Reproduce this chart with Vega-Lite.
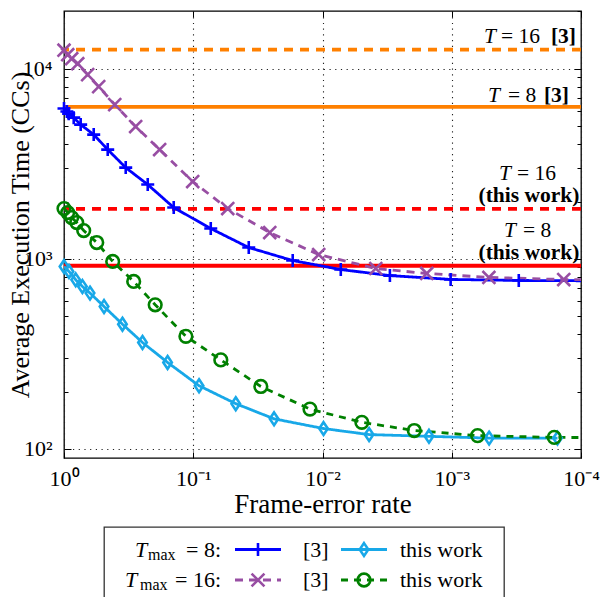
{
  "$schema": "https://vega.github.io/schema/vega-lite/v6.json",
  "padding": {"left": 6, "top": 9, "right": 0, "bottom": 0},
  "spacing": 8,
  "datasets": {
    "curves": [
      {"s": "T8 [3]", "fer": 1.0, "t": 6170},
      {"s": "T8 [3]", "fer": 0.95, "t": 5950},
      {"s": "T8 [3]", "fer": 0.92, "t": 5800},
      {"s": "T8 [3]", "fer": 0.841, "t": 5525},
      {"s": "T8 [3]", "fer": 0.743, "t": 5078},
      {"s": "T8 [3]", "fer": 0.589, "t": 4500},
      {"s": "T8 [3]", "fer": 0.459, "t": 3753},
      {"s": "T8 [3]", "fer": 0.333, "t": 3017},
      {"s": "T8 [3]", "fer": 0.225, "t": 2457},
      {"s": "T8 [3]", "fer": 0.1416, "t": 1860},
      {"s": "T8 [3]", "fer": 0.0732, "t": 1442},
      {"s": "T8 [3]", "fer": 0.0372, "t": 1146},
      {"s": "T8 [3]", "fer": 0.017, "t": 979},
      {"s": "T8 [3]", "fer": 0.00722, "t": 878},
      {"s": "T8 [3]", "fer": 0.00301, "t": 816},
      {"s": "T8 [3]", "fer": 0.00102, "t": 779},
      {"s": "T8 [3]", "fer": 0.000303, "t": 769},
      {"s": "T8 [3]", "fer": 0.00005, "t": 765, "ext": true},
      {"s": "T16 [3]", "fer": 1.0, "t": 12500},
      {"s": "T16 [3]", "fer": 0.936, "t": 11844},
      {"s": "T16 [3]", "fer": 0.872, "t": 11285},
      {"s": "T16 [3]", "fer": 0.783, "t": 10624},
      {"s": "T16 [3]", "fer": 0.656, "t": 9300},
      {"s": "T16 [3]", "fer": 0.539, "t": 8044},
      {"s": "T16 [3]", "fer": 0.405, "t": 6470},
      {"s": "T16 [3]", "fer": 0.279, "t": 4957},
      {"s": "T16 [3]", "fer": 0.182, "t": 3752},
      {"s": "T16 [3]", "fer": 0.101, "t": 2548},
      {"s": "T16 [3]", "fer": 0.0541, "t": 1838},
      {"s": "T16 [3]", "fer": 0.0256, "t": 1374},
      {"s": "T16 [3]", "fer": 0.0107, "t": 1053},
      {"s": "T16 [3]", "fer": 0.00387, "t": 889},
      {"s": "T16 [3]", "fer": 0.00156, "t": 837},
      {"s": "T16 [3]", "fer": 0.000516, "t": 798},
      {"s": "T16 [3]", "fer": 0.000136, "t": 778},
      {"s": "T16 [3]", "fer": 0.00005, "t": 772, "ext": true},
      {"s": "T8 this work", "fer": 1.0, "t": 911},
      {"s": "T8 this work", "fer": 0.915, "t": 858},
      {"s": "T8 this work", "fer": 0.812, "t": 775},
      {"s": "T8 this work", "fer": 0.72, "t": 715},
      {"s": "T8 this work", "fer": 0.629, "t": 660},
      {"s": "T8 this work", "fer": 0.49, "t": 561},
      {"s": "T8 this work", "fer": 0.353, "t": 453},
      {"s": "T8 this work", "fer": 0.247, "t": 363},
      {"s": "T8 this work", "fer": 0.158, "t": 285},
      {"s": "T8 this work", "fer": 0.0902, "t": 215},
      {"s": "T8 this work", "fer": 0.0469, "t": 173},
      {"s": "T8 this work", "fer": 0.0237, "t": 144},
      {"s": "T8 this work", "fer": 0.00982, "t": 128},
      {"s": "T8 this work", "fer": 0.00436, "t": 119},
      {"s": "T8 this work", "fer": 0.0015, "t": 116.5},
      {"s": "T8 this work", "fer": 0.000514, "t": 114},
      {"s": "T8 this work", "fer": 0.000152, "t": 114},
      {"s": "T16 this work", "fer": 1.0, "t": 1838},
      {"s": "T16 this work", "fer": 0.936, "t": 1751},
      {"s": "T16 this work", "fer": 0.872, "t": 1648},
      {"s": "T16 this work", "fer": 0.797, "t": 1551},
      {"s": "T16 this work", "fer": 0.704, "t": 1408},
      {"s": "T16 this work", "fer": 0.558, "t": 1218},
      {"s": "T16 this work", "fer": 0.42, "t": 968},
      {"s": "T16 this work", "fer": 0.289, "t": 760},
      {"s": "T16 this work", "fer": 0.197, "t": 573},
      {"s": "T16 this work", "fer": 0.114, "t": 391},
      {"s": "T16 this work", "fer": 0.0612, "t": 294},
      {"s": "T16 this work", "fer": 0.03, "t": 213},
      {"s": "T16 this work", "fer": 0.0125, "t": 162},
      {"s": "T16 this work", "fer": 0.00496, "t": 138},
      {"s": "T16 this work", "fer": 0.00195, "t": 125},
      {"s": "T16 this work", "fer": 0.000631, "t": 117.5},
      {"s": "T16 this work", "fer": 0.000161, "t": 115},
      {"s": "T16 this work", "fer": 0.00005, "t": 114.5, "ext": true}
    ],
    "refs": [
      {"id": "a1", "v": 12580, "T": "16", "src": "[3]", "eq": "= 16", "tag": "[3]"},
      {"id": "a2", "v": 6300, "T": "8", "src": "[3]", "eq": "= 8", "tag": "[3]"},
      {"id": "a3", "v": 1832, "T": "16", "src": "this work", "eq": "= 16", "tag": "(this work)"},
      {"id": "a4", "v": 919, "T": "8", "src": "this work", "eq": "= 8", "tag": "(this work)"}
    ],
    "leg": [
      {"row": "8", "eq": "= 8:", "s": "T8 [3]", "col": "c1", "lab": "[3]"},
      {"row": "8", "eq": "= 8:", "s": "T8 this work", "col": "c2", "lab": "this work"},
      {"row": "16", "eq": "= 16:", "s": "T16 [3]", "col": "c1", "lab": "[3]"},
      {"row": "16", "eq": "= 16:", "s": "T16 this work", "col": "c2", "lab": "this work"}
    ],
    "none": []
  },
  "vconcat": [
    {
      "width": 517,
      "height": 447,
      "view": {"stroke": "#000", "strokeWidth": 1.3},
      "resolve": {
        "axis": {"x": "independent", "y": "independent"},
        "scale": {"color": "independent", "strokeDash": "independent", "shape": "independent"}
      },
      "layer": [
        {
          "data": {"name": "refs"},
          "mark": {"type": "rule", "strokeWidth": 3.8},
          "encoding": {
            "y": {"field": "v", "type": "quantitative",
              "scale": {"type": "log", "domain": [89.6, 20100], "nice": false},
              "axis": {"orient": "right", "values": [100,200,300,400,500,600,700,800,900,1000,2000,3000,4000,5000,6000,7000,8000,9000,10000,20000],
                "labels": false, "title": null, "grid": false, "tickColor": "#000", "tickWidth": 1,
                "tickSize": {"condition": {"test": "datum.value == 100 || datum.value == 1000 || datum.value == 10000", "value": -7}, "value": -4}}},
            "color": {"field": "src", "type": "nominal", "scale": {"domain": ["[3]", "this work"], "range": ["#FF8000", "#FF0000"]}, "legend": null},
            "strokeDash": {"field": "T", "type": "nominal", "scale": {"domain": ["8", "16"], "range": [[1, 0], [9, 7]]}, "legend": null}
          }
        },
        {
          "data": {"name": "curves"},
          "mark": {"type": "line", "strokeWidth": 2.8, "clip": true},
          "encoding": {
            "x": {"field": "fer", "type": "quantitative",
              "scale": {"type": "log", "domain": [0.0001, 1], "reverse": true, "nice": false},
              "axis": {"orient": "bottom", "values": [1, 0.1, 0.01, 0.001, 0.0001],
                "labelExpr": "datum.value >= 0.5 ? '10⁰' : datum.value >= 0.05 ? '10⁻¹' : datum.value >= 0.005 ? '10⁻²' : datum.value >= 0.0005 ? '10⁻³' : '10⁻⁴'",
                "labelFontSize": 22, "labelFlush": false, "labelOverlap": false, "labelPadding": 16,
                "tickSize": -6, "tickColor": "#000", "tickWidth": 1,
                "grid": true, "gridDash": [1.2, 4.5], "gridColor": "#222", "gridWidth": 1.1,
                "title": "Frame-error rate", "titleFontSize": 27, "titlePadding": 2}},
            "y": {"field": "t", "type": "quantitative",
              "scale": {"type": "log", "domain": [89.6, 20100], "nice": false},
              "axis": {"orient": "left", "values": [100,200,300,400,500,600,700,800,900,1000,2000,3000,4000,5000,6000,7000,8000,9000,10000],
                "labelExpr": "datum.value == 100 ? '10²' : datum.value == 1000 ? '10³' : datum.value == 10000 ? '10⁴' : ''",
                "labelFontSize": 22, "labelOverlap": false, "labelPadding": 19, "labelFlush": false,
                "tickColor": "#000", "tickWidth": 1,
                "tickSize": {"condition": {"test": "datum.value == 100 || datum.value == 1000 || datum.value == 10000", "value": -7}, "value": -4},
                "grid": true, "gridDash": [1.2, 4.5], "gridColor": "#222", "gridWidth": 1.1,
                "gridOpacity": {"condition": {"test": "datum.value == 100 || datum.value == 1000 || datum.value == 10000", "value": 1}, "value": 0},
                "title": "Average Execution Time (CCs)", "titleFontSize": 26, "titlePadding": -11}},
            "detail": {"field": "s"},
            "color": {"field": "s", "type": "nominal", "scale": {"domain": ["T8 [3]", "T16 [3]", "T8 this work", "T16 this work"], "range": ["#0000FF", "#984EA3", "#18A8E8", "#008000"]}, "legend": null},
            "strokeDash": {"field": "s", "type": "nominal", "scale": {"domain": ["T8 [3]", "T16 [3]", "T8 this work", "T16 this work"], "range": [[1, 0], [8, 6], [1, 0], [7, 6]]}, "legend": null}
          }
        },
        {
          "data": {"name": "curves"},
          "transform": [{"filter": "datum.ext != true"}],
          "mark": {"type": "point", "filled": false, "strokeWidth": 2.6, "opacity": 1},
          "encoding": {
            "x": {"field": "fer", "type": "quantitative",
              "scale": {"type": "log", "domain": [0.0001, 1], "reverse": true, "nice": false},
              "axis": {"orient": "top", "values": [1, 0.1, 0.01, 0.001, 0.0001], "labels": false, "title": null, "grid": false,
                "tickSize": -6, "tickColor": "#000", "tickWidth": 1}},
            "y": {"field": "t", "type": "quantitative", "scale": {"type": "log", "domain": [89.6, 20100], "nice": false}, "axis": null},
            "shape": {"field": "s", "type": "nominal", "scale": {"domain": ["T8 [3]", "T16 [3]", "T8 this work", "T16 this work"],
              "range": ["M-1,0H1M0,-1V1", "M-1,-1L1,1M-1,1L1,-1", "M0,-1L0.67,0L0,1L-0.67,0Z", "circle"]}, "legend": null},
            "size": {"field": "s", "type": "nominal", "scale": {"domain": ["T8 [3]", "T16 [3]", "T8 this work", "T16 this work"], "range": [169, 160, 225, 256]}, "legend": null},
            "color": {"field": "s", "type": "nominal", "scale": {"domain": ["T8 [3]", "T16 [3]", "T8 this work", "T16 this work"], "range": ["#0000FF", "#984EA3", "#18A8E8", "#008000"]}, "legend": null}
          }
        },
        {
          "data": {"name": "refs"},
          "transform": [{"filter": "datum.id == 'a1'"}],
          "mark": {"type": "text", "fontSize": 21.5, "fontStyle": "italic", "align": "left", "baseline": "alphabetic", "dx": -97, "dy": -7},
          "encoding": {
            "x": {"datum": 0.0001, "type": "quantitative", "scale": {"type": "log", "domain": [0.0001, 1], "reverse": true, "nice": false}, "axis": null},
            "y": {"field": "v", "type": "quantitative", "scale": {"type": "log", "domain": [89.6, 20100], "nice": false}, "axis": null},
            "text": {"value": "T"}
          }
        },
        {
          "data": {"name": "refs"},
          "transform": [{"filter": "datum.id == 'a1'"}],
          "mark": {"type": "text", "fontSize": 21.5, "align": "left", "baseline": "alphabetic", "dx": -80, "dy": -7},
          "encoding": {
            "x": {"datum": 0.0001, "type": "quantitative", "scale": {"type": "log", "domain": [0.0001, 1], "reverse": true, "nice": false}, "axis": null},
            "y": {"field": "v", "type": "quantitative", "scale": {"type": "log", "domain": [89.6, 20100], "nice": false}, "axis": null},
            "text": {"field": "eq"}
          }
        },
        {
          "data": {"name": "refs"},
          "transform": [{"filter": "datum.id == 'a1'"}],
          "mark": {"type": "text", "fontSize": 21.5, "fontWeight": "bold", "align": "right", "baseline": "alphabetic", "dx": -5, "dy": -7},
          "encoding": {
            "x": {"datum": 0.0001, "type": "quantitative", "scale": {"type": "log", "domain": [0.0001, 1], "reverse": true, "nice": false}, "axis": null},
            "y": {"field": "v", "type": "quantitative", "scale": {"type": "log", "domain": [89.6, 20100], "nice": false}, "axis": null},
            "text": {"field": "tag"}
          }
        },
        {
          "data": {"name": "refs"},
          "transform": [{"filter": "datum.id == 'a2'"}],
          "mark": {"type": "text", "fontSize": 21.5, "fontStyle": "italic", "align": "left", "baseline": "alphabetic", "dx": -93, "dy": -5},
          "encoding": {
            "x": {"datum": 0.0001, "type": "quantitative", "scale": {"type": "log", "domain": [0.0001, 1], "reverse": true, "nice": false}, "axis": null},
            "y": {"field": "v", "type": "quantitative", "scale": {"type": "log", "domain": [89.6, 20100], "nice": false}, "axis": null},
            "text": {"value": "T"}
          }
        },
        {
          "data": {"name": "refs"},
          "transform": [{"filter": "datum.id == 'a2'"}],
          "mark": {"type": "text", "fontSize": 21.5, "align": "left", "baseline": "alphabetic", "dx": -73, "dy": -5},
          "encoding": {
            "x": {"datum": 0.0001, "type": "quantitative", "scale": {"type": "log", "domain": [0.0001, 1], "reverse": true, "nice": false}, "axis": null},
            "y": {"field": "v", "type": "quantitative", "scale": {"type": "log", "domain": [89.6, 20100], "nice": false}, "axis": null},
            "text": {"field": "eq"}
          }
        },
        {
          "data": {"name": "refs"},
          "transform": [{"filter": "datum.id == 'a2'"}],
          "mark": {"type": "text", "fontSize": 21.5, "fontWeight": "bold", "align": "right", "baseline": "alphabetic", "dx": -12, "dy": -5},
          "encoding": {
            "x": {"datum": 0.0001, "type": "quantitative", "scale": {"type": "log", "domain": [0.0001, 1], "reverse": true, "nice": false}, "axis": null},
            "y": {"field": "v", "type": "quantitative", "scale": {"type": "log", "domain": [89.6, 20100], "nice": false}, "axis": null},
            "text": {"field": "tag"}
          }
        },
        {
          "data": {"name": "refs"},
          "transform": [{"filter": "datum.id == 'a3'"}],
          "mark": {"type": "text", "fontSize": 21.5, "fontStyle": "italic", "align": "left", "baseline": "alphabetic", "dx": -82, "dy": -29},
          "encoding": {
            "x": {"datum": 0.0001, "type": "quantitative", "scale": {"type": "log", "domain": [0.0001, 1], "reverse": true, "nice": false}, "axis": null},
            "y": {"field": "v", "type": "quantitative", "scale": {"type": "log", "domain": [89.6, 20100], "nice": false}, "axis": null},
            "text": {"value": "T"}
          }
        },
        {
          "data": {"name": "refs"},
          "transform": [{"filter": "datum.id == 'a3'"}],
          "mark": {"type": "text", "fontSize": 21.5, "align": "left", "baseline": "alphabetic", "dx": -64, "dy": -29},
          "encoding": {
            "x": {"datum": 0.0001, "type": "quantitative", "scale": {"type": "log", "domain": [0.0001, 1], "reverse": true, "nice": false}, "axis": null},
            "y": {"field": "v", "type": "quantitative", "scale": {"type": "log", "domain": [89.6, 20100], "nice": false}, "axis": null},
            "text": {"field": "eq"}
          }
        },
        {
          "data": {"name": "refs"},
          "transform": [{"filter": "datum.id == 'a4'"}],
          "mark": {"type": "text", "fontSize": 21.5, "fontStyle": "italic", "align": "left", "baseline": "alphabetic", "dx": -77, "dy": -29},
          "encoding": {
            "x": {"datum": 0.0001, "type": "quantitative", "scale": {"type": "log", "domain": [0.0001, 1], "reverse": true, "nice": false}, "axis": null},
            "y": {"field": "v", "type": "quantitative", "scale": {"type": "log", "domain": [89.6, 20100], "nice": false}, "axis": null},
            "text": {"value": "T"}
          }
        },
        {
          "data": {"name": "refs"},
          "transform": [{"filter": "datum.id == 'a4'"}],
          "mark": {"type": "text", "fontSize": 21.5, "align": "left", "baseline": "alphabetic", "dx": -58, "dy": -29},
          "encoding": {
            "x": {"datum": 0.0001, "type": "quantitative", "scale": {"type": "log", "domain": [0.0001, 1], "reverse": true, "nice": false}, "axis": null},
            "y": {"field": "v", "type": "quantitative", "scale": {"type": "log", "domain": [89.6, 20100], "nice": false}, "axis": null},
            "text": {"field": "eq"}
          }
        },
        {
          "data": {"name": "refs"},
          "transform": [{"filter": "datum.src == 'this work'"}],
          "mark": {"type": "text", "fontSize": 21.5, "fontWeight": "bold", "align": "center", "baseline": "alphabetic", "dx": -52, "dy": -7},
          "encoding": {
            "x": {"datum": 0.0001, "type": "quantitative", "scale": {"type": "log", "domain": [0.0001, 1], "reverse": true, "nice": false}, "axis": null},
            "y": {"field": "v", "type": "quantitative", "scale": {"type": "log", "domain": [89.6, 20100], "nice": false}, "axis": null},
            "text": {"field": "tag"}
          }
        }
      ]
    },
    {
      "spacing": 10,
      "hconcat": [
        {
          "width": 29,
          "height": 80,
          "view": {"stroke": null, "fill": "rgba(255,255,255,0)"},
          "data": {"name": "none"},
          "mark": {"type": "point"},
          "encoding": {}
        },
        {
          "width": 400,
          "height": 80,
          "view": {"stroke": "#333", "strokeWidth": 1.3},
          "data": {"name": "leg"},
          "encoding": {
            "x": {"field": "col", "type": "ordinal", "scale": {"type": "point", "domain": ["c1", "c2"], "range": [154, 260], "padding": 0}, "axis": null},
            "y": {"field": "row", "type": "ordinal", "scale": {"type": "point", "domain": ["8", "16"], "range": [22.5, 53], "padding": 0}, "axis": null}
          },
          "layer": [
            {
              "mark": {"type": "rule", "strokeWidth": 2.8, "xOffset": -23, "x2Offset": 23},
              "encoding": {
                "x2": {"field": "col"},
                "color": {"field": "s", "type": "nominal", "scale": {"domain": ["T8 [3]", "T16 [3]", "T8 this work", "T16 this work"], "range": ["#0000FF", "#984EA3", "#18A8E8", "#008000"]}, "legend": null},
                "strokeDash": {"field": "s", "type": "nominal", "scale": {"domain": ["T8 [3]", "T16 [3]", "T8 this work", "T16 this work"], "range": [[1, 0], [8, 6], [1, 0], [7, 6]]}, "legend": null}
              }
            },
            {
              "mark": {"type": "point", "filled": false, "strokeWidth": 2.6, "opacity": 1},
              "encoding": {
                "shape": {"field": "s", "type": "nominal", "scale": {"domain": ["T8 [3]", "T16 [3]", "T8 this work", "T16 this work"],
                  "range": ["M-1,0H1M0,-1V1", "M-1,-1L1,1M-1,1L1,-1", "M0,-1L0.67,0L0,1L-0.67,0Z", "circle"]}, "legend": null},
                "size": {"field": "s", "type": "nominal", "scale": {"domain": ["T8 [3]", "T16 [3]", "T8 this work", "T16 this work"], "range": [169, 160, 225, 256]}, "legend": null},
                "color": {"field": "s", "type": "nominal", "scale": {"domain": ["T8 [3]", "T16 [3]", "T8 this work", "T16 this work"], "range": ["#0000FF", "#984EA3", "#18A8E8", "#008000"]}, "legend": null}
              }
            },
            {
              "transform": [{"filter": "datum.col == 'c1'"}],
              "mark": {"type": "text", "fontSize": 22, "align": "left", "baseline": "alphabetic", "dx": 45, "dy": 7},
              "encoding": {"text": {"field": "lab"}}
            },
            {
              "transform": [{"filter": "datum.col == 'c2'"}],
              "mark": {"type": "text", "fontSize": 22, "align": "left", "baseline": "alphabetic", "dx": 36, "dy": 7},
              "encoding": {"text": {"field": "lab"}}
            },
            {
              "transform": [{"filter": "datum.col == 'c1'"}],
              "mark": {"type": "text", "fontSize": 22, "align": "right", "baseline": "alphabetic", "dx": -37, "dy": 7},
              "encoding": {"text": {"field": "eq"}}
            },
            {
              "transform": [{"filter": "datum.col == 'c1' && datum.row == '8'"}],
              "mark": {"type": "text", "fontSize": 16, "align": "left", "baseline": "alphabetic", "dx": -110, "dy": 10},
              "encoding": {"text": {"value": "max"}}
            },
            {
              "transform": [{"filter": "datum.col == 'c1' && datum.row == '16'"}],
              "mark": {"type": "text", "fontSize": 16, "align": "left", "baseline": "alphabetic", "dx": -118, "dy": 10},
              "encoding": {"text": {"value": "max"}}
            },
            {
              "transform": [{"filter": "datum.col == 'c1' && datum.row == '8'"}],
              "mark": {"type": "text", "fontSize": 22, "fontStyle": "italic", "align": "left", "baseline": "alphabetic", "dx": -123, "dy": 7},
              "encoding": {"text": {"value": "T"}}
            },
            {
              "transform": [{"filter": "datum.col == 'c1' && datum.row == '16'"}],
              "mark": {"type": "text", "fontSize": 22, "fontStyle": "italic", "align": "left", "baseline": "alphabetic", "dx": -133, "dy": 7},
              "encoding": {"text": {"value": "T"}}
            }
          ]
        }
      ]
    }
  ],
  "config": {
    "font": "Liberation Serif",
    "text": {"font": "Liberation Serif", "color": "#000"},
    "axis": {"labelFont": "Liberation Serif", "titleFont": "Liberation Serif", "labelColor": "#000", "titleColor": "#000", "domain": false, "titleFontWeight": "normal"}
  }
}
